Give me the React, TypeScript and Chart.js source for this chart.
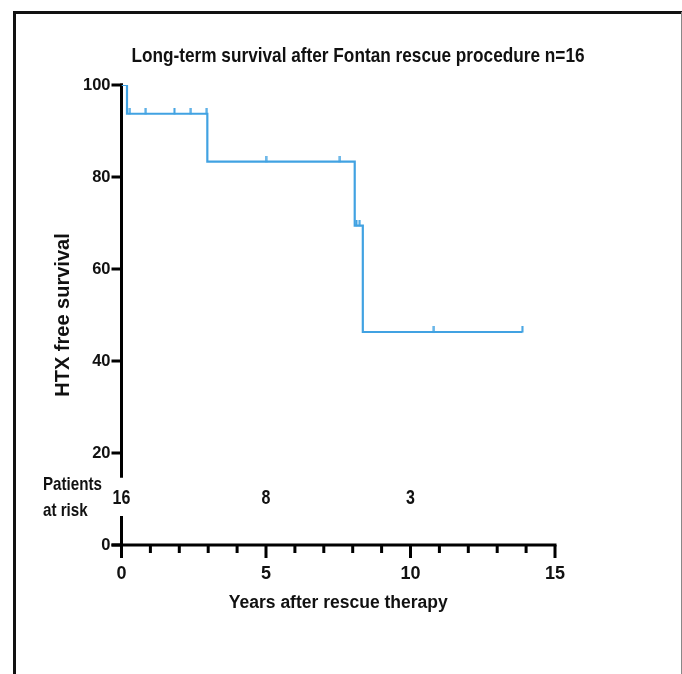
import { useEffect, useRef } from 'react';
import { Chart, registerables } from 'chart.js';

Chart.register(...registerables);

const chartTitle = 'Long-term survival after Fontan rescue procedure n=16';
const xAxisTitle = 'Years after rescue therapy';
const yAxisTitle = 'HTX free survival';

// Kaplan-Meier steps (time in years, survival %)
const eventTimes = [0, 0.19, 2.97, 8.07, 8.35, 13.87];
const survivalValues = [100, 93.75, 83.33, 69.44, 46.3, 46.3];

// censored observations
const censorTimes = [0.29, 0.84, 1.83, 2.4, 2.95, 5.0, 7.56, 8.13, 8.24, 10.81, 13.87];
const censorValues = [93.75, 93.75, 93.75, 93.75, 93.75, 83.33, 83.33, 69.44, 69.44, 46.3, 46.3];

const xMajorTicks = [0, 5, 10, 15];
const xMinorTicks = [1, 2, 3, 4, 6, 7, 8, 9, 11, 12, 13, 14];
const yTicks = [0, 20, 40, 60, 80, 100];

const riskTimes = [0, 5, 10];
const riskCounts = ['16', '8', '3'];
const riskRowValue = 10.0;
const riskHeader = ['Patients', 'at risk'];
const yAxisBreak = [6.3, 14.6];

const lineColor = '#41a2e2';
const SANS = "'Liberation Sans', Arial, sans-serif";
const NARROW_X = 0.82;

function narrowText(ctx: CanvasRenderingContext2D, text: string, x: number, y: number, align: CanvasTextAlign) {
  ctx.save();
  ctx.translate(x, y);
  ctx.scale(NARROW_X, 1);
  ctx.textAlign = align;
  ctx.fillText(text, 0, 0);
  ctx.restore();
}

const decorations = {
  id: 'decorations',
  beforeDraw(chart: any) {
    const { ctx, width, height } = chart;
    ctx.save();
    ctx.fillStyle = '#ffffff';
    ctx.fillRect(0, 0, width, height);
    // frame
    ctx.strokeStyle = '#111111';
    ctx.lineWidth = 3;
    ctx.beginPath();
    ctx.moveTo(14.5, height);
    ctx.lineTo(14.5, 12.5);
    ctx.lineTo(width, 12.5);
    ctx.stroke();
    ctx.strokeStyle = '#888888';
    ctx.lineWidth = 1;
    ctx.beginPath();
    ctx.moveTo(681.5, 12);
    ctx.lineTo(681.5, height);
    ctx.stroke();
    // title
    ctx.fillStyle = '#111111';
    ctx.font = `bold 21px ${SANS}`;
    ctx.textBaseline = 'middle';
    narrowText(ctx, chartTitle, 358, 56, 'center');
    ctx.restore();
  },
  beforeDatasetsDraw(chart: any) {
    const { ctx } = chart;
    const xs = chart.scales.x;
    const ys = chart.scales.y;
    const x0 = xs.getPixelForValue(0);
    const y0 = ys.getPixelForValue(0);
    ctx.save();
    ctx.strokeStyle = '#000000';
    ctx.lineWidth = 3;
    ctx.lineCap = 'butt';
    // y axis with break
    ctx.beginPath();
    ctx.moveTo(x0, ys.getPixelForValue(100) - 1.5);
    ctx.lineTo(x0, ys.getPixelForValue(yAxisBreak[1]));
    ctx.moveTo(x0, ys.getPixelForValue(yAxisBreak[0]));
    ctx.lineTo(x0, y0);
    ctx.stroke();
    // y ticks
    ctx.beginPath();
    yTicks.forEach((v) => {
      const y = ys.getPixelForValue(v);
      ctx.moveTo(x0 - 10, y);
      ctx.lineTo(x0 + 1.5, y);
    });
    ctx.stroke();
    // x axis
    ctx.beginPath();
    ctx.moveTo(x0 - 10, y0);
    ctx.lineTo(xs.getPixelForValue(15) + 1.5, y0);
    ctx.stroke();
    ctx.beginPath();
    xMajorTicks.forEach((v) => {
      const x = xs.getPixelForValue(v);
      ctx.moveTo(x, y0);
      ctx.lineTo(x, y0 + 13);
    });
    xMinorTicks.forEach((v) => {
      const x = xs.getPixelForValue(v);
      ctx.moveTo(x, y0);
      ctx.lineTo(x, y0 + 8);
    });
    ctx.stroke();
    // patients at risk
    ctx.fillStyle = '#111111';
    ctx.font = `bold 18.5px ${SANS}`;
    ctx.textBaseline = 'alphabetic';
    narrowText(ctx, riskHeader[0], 43, 490, 'left');
    narrowText(ctx, riskHeader[1], 43, 516, 'left');
    ctx.textBaseline = 'middle';
    ctx.font = `bold 19.5px ${SANS}`;
    const ry = ys.getPixelForValue(riskRowValue);
    riskTimes.forEach((t, i) => {
      narrowText(ctx, riskCounts[i], xs.getPixelForValue(t), ry, 'center');
    });
    ctx.restore();
  },
};

export default function App() {
  const canvasRef = useRef<HTMLCanvasElement | null>(null);

  useEffect(() => {
    const canvas = canvasRef.current;
    if (!canvas) return;

    const tick = document.createElement('canvas');
    tick.width = 3;
    tick.height = 12;
    const tctx = tick.getContext('2d')!;
    tctx.fillStyle = lineColor;
    tctx.fillRect(0.5, 0, 2, 6.5);

    const chart = new Chart(canvas, {
      type: 'line',
      data: {
        datasets: [
          {
            label: 'survival',
            data: eventTimes.map((t, i) => ({ x: t, y: survivalValues[i] })),
            borderColor: lineColor,
            borderWidth: 2.2,
            stepped: 'before',
            pointRadius: 0,
            fill: false,
          },
          {
            label: 'censored',
            data: censorTimes.map((t, i) => ({ x: t, y: censorValues[i] })),
            showLine: false,
            pointStyle: tick as any,
            pointRadius: 5,
            borderColor: lineColor,
            backgroundColor: lineColor,
          },
        ],
      },
      options: {
        animation: false,
        responsive: false,
        maintainAspectRatio: false,
        events: [],
        layout: { padding: { left: 45, right: 127, top: 85, bottom: 60 } },
        plugins: {
          legend: { display: false },
          title: { display: false },
          tooltip: { enabled: false },
        },
        scales: {
          x: {
            type: 'linear',
            min: 0,
            max: 15,
            afterFit: (s: any) => {
              s.height = 69;
            },
            grid: { display: false, drawTicks: false, tickLength: 0 },
            border: { display: false },
            ticks: {
              stepSize: 5,
              padding: 18,
              color: '#111111',
              font: { family: SANS, size: 18, weight: 'bold' },
              maxRotation: 0,
            },
            title: {
              display: true,
              text: xAxisTitle,
              color: '#111111',
              font: { family: SANS, size: 17.5, weight: 'bold' },
              padding: { top: 0, bottom: 0 },
            },
          },
          y: {
            type: 'linear',
            min: 0,
            max: 100,
            afterFit: (s: any) => {
              s.width = 76.5;
            },
            grid: { display: false, drawTicks: false, tickLength: 0 },
            border: { display: false },
            ticks: {
              stepSize: 20,
              padding: 11,
              color: '#111111',
              font: { family: SANS, size: 16.5, weight: 'bold' },
            },
            title: {
              display: true,
              text: yAxisTitle,
              color: '#111111',
              font: { family: SANS, size: 20, weight: 'bold' },
              padding: { top: 6, bottom: 0 },
            },
          },
        },
      },
      plugins: [decorations],
    });

    return () => {
      chart.destroy();
    };
  }, []);

  return (
    <div style={{ position: 'fixed', left: 0, top: 0, width: 682, height: 674 }}>
      <canvas ref={canvasRef} width={682} height={674} style={{ display: 'block' }} />
    </div>
  );
}
